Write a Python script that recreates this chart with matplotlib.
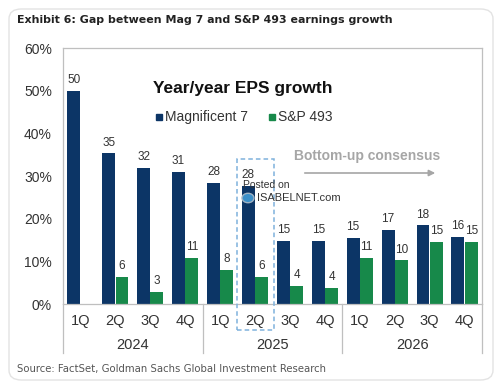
import numpy as np
import matplotlib
matplotlib.use("Agg")
import matplotlib.pyplot as plt
import matplotlib.transforms as mtransforms
from matplotlib.patches import FancyBboxPatch, Rectangle, Circle
from matplotlib import font_manager as fm

quarters = ["1Q", "2Q", "3Q", "4Q"] * 3
years = ["2024", "2025", "2026"]
mag7 = [50, 35.3, 31.8, 31.0, 28.3, 27.6, 14.8, 14.7, 15.4, 17.4, 18.4, 15.7]
sp493 = [np.nan, 6.4, 2.9, 10.7, 7.9, 6.4, 4.2, 3.7, 10.7, 10.2, 14.6, 14.6]
yticks = [0, 10, 20, 30, 40, 50, 60]

NAVY = "#0c3566"
GREEN = "#17894a"
TXT = "#333333"

# look for a condensed / narrow font family, otherwise Roboto (narrowish)
cond_family = None
for f in fm.fontManager.ttflist:
    n = f.name.lower()
    fn = f.fname.lower()
    if "narrow" in n or "condensed" in n or "condensed" in fn:
        cond_family = f.name
        break
cond_list = ([cond_family] if cond_family else []) + ["Roboto", "Liberation Sans", "DejaVu Sans"]

W, H = 500, 392
fig = plt.figure(figsize=(5.0, 3.92), dpi=100)
fig.patch.set_facecolor("white")

def fx(px):
    return px / W

def fy(py):
    return 1 - py / H

# outer rounded frame
frame = FancyBboxPatch((fx(9), fy(380)), fx(484), 371 / H,
                       boxstyle="round,pad=0,rounding_size=0.025",
                       transform=fig.transFigure, fill=False,
                       edgecolor="#e3e3e3", linewidth=1.0)
fig.patches.append(frame)

ax = fig.add_axes([fx(63), fy(304), fx(482) - fx(63), (304 - 48) / H])
x = np.arange(len(quarters))
bw = 0.37
ax.bar(x - 0.19, mag7, width=bw, color=NAVY, zorder=2)
ax.bar(x + 0.19, sp493, width=bw, color=GREEN, zorder=2)

for xi, v in zip(x, mag7):
    ax.annotate(f"{v:.0f}", (xi - 0.19, v), xytext=(0, 3.5), textcoords="offset points",
                ha="center", va="bottom", fontsize=8.5, color=TXT, family="Liberation Sans")
for xi, v in zip(x, sp493):
    if np.isnan(v):
        continue
    ax.annotate(f"{v:.0f}", (xi + 0.19, v), xytext=(0, 3.5), textcoords="offset points",
                ha="center", va="bottom", fontsize=8.5, color=TXT, family="Liberation Sans")

ax.set_xlim(-0.5, len(quarters) - 0.5)
ax.set_ylim(0, 60)
ax.set_yticks(yticks)
ax.set_yticklabels([f"{t}%" for t in yticks], fontsize=10, color=TXT, family="Liberation Sans")
ax.tick_params(axis="y", length=0, pad=8)
ax.set_xticks(x)
ax.set_xticklabels(quarters, fontsize=10.5, color=TXT, family="Liberation Sans")
ax.tick_params(axis="x", length=0, pad=7)
for s in ax.spines.values():
    s.set_color("#bfbfbf")
    s.set_linewidth(0.9)

trans = mtransforms.blended_transform_factory(ax.transData, ax.transAxes)
for b in [-0.5, 3.5, 7.5, 11.5]:
    ax.plot([b, b], [0, -0.19], transform=trans, color="#bfbfbf", lw=0.9, clip_on=False)
for i, yr in enumerate(years):
    ax.text(i * 4 + 1.5, -0.16, yr, transform=trans, ha="center", va="center",
            fontsize=10.5, color=TXT, family="Liberation Sans")

# dashed highlight box around 2Q 2025
ax.add_patch(Rectangle((4.48, -0.10), 1.06, 0.666, transform=trans, fill=False,
                       edgecolor="#7fb2dc", linestyle=(0, (3, 2)), lw=1.1,
                       clip_on=False, zorder=3))

# titles and texts
title = fig.text(fx(17), fy(20), "Exhibit 6: Gap between Mag 7 and S&P 493 earnings growth",
                 ha="left", va="center", fontsize=13, fontweight="bold", color="#222222",
                 family=cond_list)
source = fig.text(fx(17), fy(369), "Source: FactSet, Goldman Sachs Global Investment Research",
                  ha="left", va="center", fontsize=10, color="#555555",
                  family=cond_list)
fig.text(fx(153), fy(89), "Year/year EPS growth", ha="left", va="center",
         fontsize=12.5, fontweight="bold", color="#111111", family="Liberation Sans")

# legend
fig.patches.append(Rectangle((fx(156), fy(120)), fx(6), 6 / H, transform=fig.transFigure,
                             color=NAVY))
fig.text(fx(165), fy(117), "Magnificent 7", ha="left", va="center", fontsize=10,
         color=TXT, family="Liberation Sans")
fig.patches.append(Rectangle((fx(269), fy(120)), fx(6), 6 / H, transform=fig.transFigure,
                             color=GREEN))
fig.text(fx(278), fy(117), "S&P 493", ha="left", va="center", fontsize=10,
         color=TXT, family="Liberation Sans")

# bottom-up consensus
fig.text(fx(294), fy(156), "Bottom-up consensus", ha="left", va="center", fontsize=10,
         fontweight="bold", color="#a6a6a6", family="Liberation Sans")
ax.annotate("", xy=(fx(438), fy(173)), xytext=(fx(302), fy(173)),
            xycoords="figure fraction", textcoords="figure fraction",
            arrowprops=dict(arrowstyle="-|>", color="#a6a6a6", lw=1.2, mutation_scale=9))

# watermark
fig.text(fx(243), fy(185), "Posted on", ha="left", va="center", fontsize=7.5,
         color="#333333", family="Liberation Sans")
fig.text(fx(257), fy(198), "ISABELNET.com", ha="left", va="center", fontsize=8,
         color="#333333", family="Liberation Sans")
fig.patches.append(Circle((fx(248), fy(198)), 6 / W, transform=fig.transFigure,
                          facecolor="#3a8fc9", edgecolor="#9fb3c4", lw=1, zorder=5))

# fit the condensed-style texts to the reference widths
fig.canvas.draw()
r = fig.canvas.get_renderer()
for t, target in [(title, 373.0), (source, 309.0)]:
    w = t.get_window_extent(renderer=r).width
    if w > target:
        t.set_fontsize(t.get_fontsize() * target / w)

fig.savefig("out.png", dpi=100, facecolor="white")
